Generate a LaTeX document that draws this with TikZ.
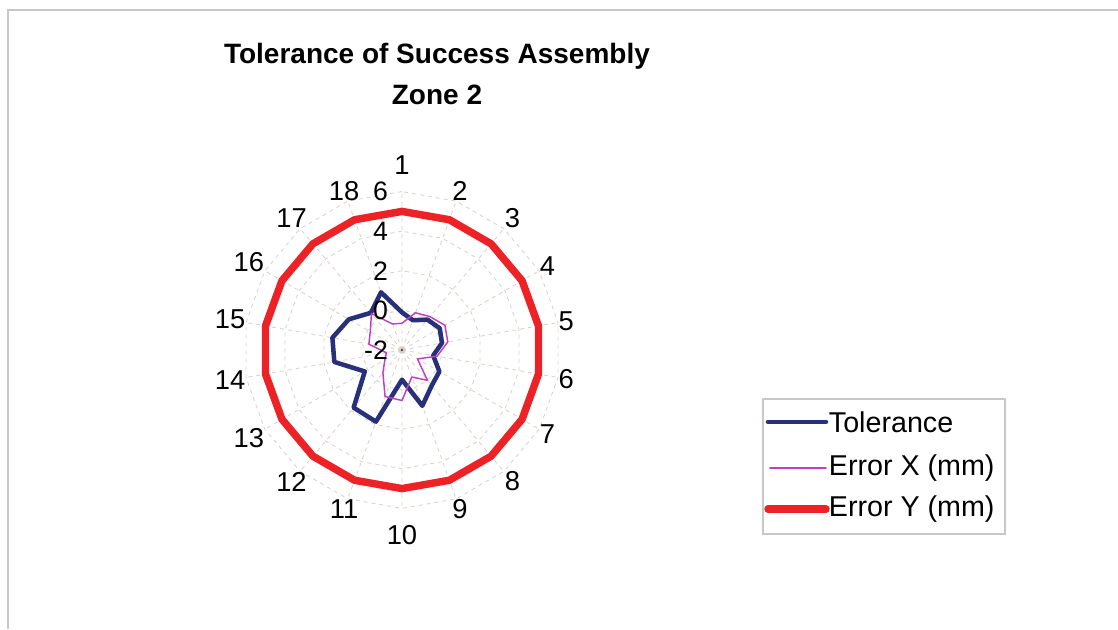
\documentclass[tikz,border=0pt]{standalone}
\usepackage{fontspec}
\setmainfont{Liberation Sans}
\usetikzlibrary{shapes.geometric,positioning}
\definecolor{tolblue}{RGB}{40,48,122}
\definecolor{errxpink}{RGB}{192,64,190}
\definecolor{erryred}{RGB}{236,34,38}
\definecolor{gridgray}{RGB}{218,208,200}
\definecolor{framegray}{RGB}{200,200,200}

\begin{document}
\begin{tikzpicture}[x=0.75pt,y=0.75pt]
	\tikzstyle{ring} = [draw=gridgray,dashed,line width=0.6pt,regular polygon,regular polygon sides=18,shape border rotate=10,inner sep=0pt]
	\tikzstyle{spoke} = [draw=gridgray,dashed,line width=0.6pt]
	\tikzstyle{axlbl} = [font=\fontsize{20.5}{24}\selectfont,inner sep=1pt]
	\tikzstyle{vallbl} = [font=\fontsize{20}{24}\selectfont,inner sep=0pt,anchor=east]
	\tikzstyle{tolerance} = [draw=tolblue,line width=3.4pt,line join=round,line cap=round]
	\tikzstyle{errx} = [draw=errxpink,line width=1.1pt,line join=round,line cap=round]
	\tikzstyle{erry} = [draw=erryred,line width=5.6pt,line join=round,line cap=round]
	\tikzstyle{legbox} = [draw=framegray,line width=0.8pt,minimum width=181.5pt,minimum height=101.25pt]
	\tikzstyle{legtxt} = [font=\fontsize{21.5}{25}\selectfont,anchor=west,inner sep=2pt]
	\useasboundingbox (0,0) rectangle (1118,629);
	% Frame
	\draw[framegray,line width=1.5pt] (8,0) -- (8,619) -- (1118,619);
	% Title
	\node[font=\bfseries\fontsize{21}{25}\selectfont] (title_1) at (437,573) {Tolerance of Success Assembly};
	\node[font=\bfseries\fontsize{21}{25}\selectfont] (title_2) at (437,534) {Zone 2};
	% Chart, one unit = one unit of value
	\begin{scope}[shift={(402,279)},scale=19.8]
		\coordinate (c) at (0,0);
		% Grid
		\node[ring,minimum size=59.4pt] (ring_0) at (c) {};
		\node[ring,minimum size=118.8pt] (ring_2) at (c) {};
		\node[ring,minimum size=178.2pt] (ring_4) at (c) {};
		\node[ring,minimum size=237.6pt] (ring_6) at (c) {};
		\draw[spoke] (c) -- (90:8) (c) -- (70:8) (c) -- (50:8)
			(c) -- (30:8) (c) -- (10:8) (c) -- (-10:8)
			(c) -- (-30:8) (c) -- (-50:8) (c) -- (-70:8)
			(c) -- (-90:8) (c) -- (-110:8) (c) -- (-130:8)
			(c) -- (-150:8) (c) -- (-170:8) (c) -- (170:8)
			(c) -- (150:8) (c) -- (130:8) (c) -- (110:8);
		\fill[black!70] (c) circle (0.07);
		% Tolerance
		\draw[tolerance] (90:1.9) -- (70:1.6) -- (50:2.0) -- (30:2.2) -- (10:2.05) -- (-10:1.6)
			-- (-30:2.18) -- (-50:2.34) -- (-70:3.0) -- (-90:1.5) -- (-110:3.85) -- (-130:3.8)
			-- (-150:2.17) -- (-170:3.47) -- (170:3.57) -- (150:3.1) -- (130:2.45) -- (110:3.1) -- cycle;
		% Error X
		\draw[errx] (90:1.35) -- (70:2.0) -- (50:2.2) -- (30:2.5) -- (10:2.35) -- (-10:1.8)
			-- (-30:0.9) -- (-50:2.0) -- (-70:1.45) -- (-90:2.55) -- (-110:2.5) -- (-130:1.5)
			-- (-150:1.0) -- (-170:0.8) -- (170:1.7) -- (150:1.85) -- (130:2.4) -- (110:1.4) -- cycle;
		% Error Y
		\draw[erry] (90:7) -- (70:7) -- (50:7) -- (30:7) -- (10:7) -- (-10:7)
			-- (-30:7) -- (-50:7) -- (-70:7) -- (-90:7) -- (-110:7) -- (-130:7)
			-- (-150:7) -- (-170:7) -- (170:7) -- (150:7) -- (130:7) -- (110:7) -- cycle;
		% Value axis
		\node[vallbl] (val_0) at (-0.7,0) {-2};
		\node[vallbl] (val_1) at (-0.7,2) {0};
		\node[vallbl] (val_2) at (-0.7,4) {2};
		\node[vallbl] (val_3) at (-0.7,6) {4};
		\node[vallbl] (val_4) at (-0.7,8) {6};
		% Categories
		\node[axlbl,anchor=270,yshift=12.5pt] (ax_1) at (90:7.95) {1};
		\node[axlbl,anchor=250] (ax_2) at (70:7.95) {2};
		\node[axlbl,anchor=230] (ax_3) at (50:7.95) {3};
		\node[axlbl,anchor=210] (ax_4) at (30:7.95) {4};
		\node[axlbl,anchor=190] (ax_5) at (10:7.95) {5};
		\node[axlbl,anchor=170] (ax_6) at (-10:7.95) {6};
		\node[axlbl,anchor=150] (ax_7) at (-30:7.95) {7};
		\node[axlbl,anchor=130] (ax_8) at (-50:7.95) {8};
		\node[axlbl,anchor=110] (ax_9) at (-70:7.95) {9};
		\node[axlbl,anchor=90,yshift=-12pt] (ax_10) at (-90:7.95) {10};
		\node[axlbl,anchor=70] (ax_11) at (-110:7.95) {11};
		\node[axlbl,anchor=50] (ax_12) at (-130:7.95) {12};
		\node[axlbl,anchor=30] (ax_13) at (-150:7.95) {13};
		\node[axlbl,anchor=10] (ax_14) at (-170:7.95) {14};
		\node[axlbl,anchor=350] (ax_15) at (170:7.95) {15};
		\node[axlbl,anchor=330] (ax_16) at (150:7.95) {16};
		\node[axlbl,anchor=310] (ax_17) at (130:7.95) {17};
		\node[axlbl,anchor=290] (ax_18) at (110:7.95) {18};
	\end{scope}
	% Legend
	\node[legbox] (leg) at (884,162.5) {};
	\coordinate (ls_1) at (768,207);
	\node[legtxt] (lt_1) at (826,207) {Tolerance};
	\draw[tolerance] (ls_1) -- (lt_1.west);
	\coordinate (ls_2) at (770,161);
	\node[legtxt] (lt_2) at (826,161) {Error X (mm)};
	\draw[errx] (ls_2) -- (lt_2.west);
	\coordinate (ls_3) at (768,120);
	\node[legtxt] (lt_3) at (826,120) {Error Y (mm)};
	\draw[erry] (ls_3) -- (lt_3.west);
\end{tikzpicture}
\end{document}
